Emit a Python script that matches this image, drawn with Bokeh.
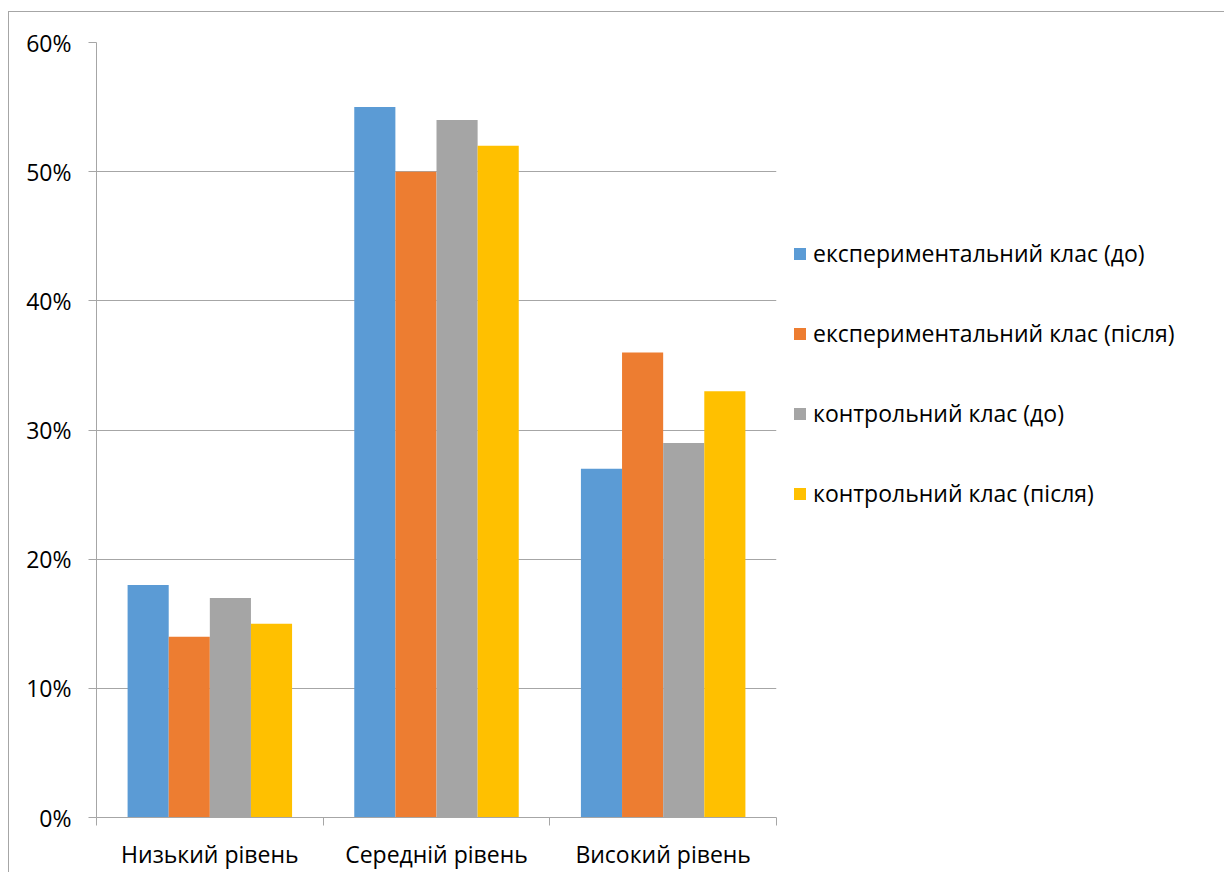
import numpy as np
from bokeh.plotting import figure
from bokeh.models import (ColumnDataSource, Range1d, FixedTicker, NumeralTickFormatter,
                          Legend, LegendItem)
from bokeh.transform import dodge
from bokeh.embed import file_html
from bokeh.resources import INLINE

categories = ["Низький рівень", "Середній рівень", "Високий рівень"]
series_names = ["експериментальний клас (до)", "експериментальний клас (після)",
                "контрольний клас (до)", "контрольний клас (після)"]
exp_before = [0.18, 0.55, 0.27]
exp_after = [0.14, 0.50, 0.36]
ctrl_before = [0.17, 0.54, 0.29]
ctrl_after = [0.15, 0.52, 0.33]
colors = ["#5b9bd5", "#ed7d31", "#a5a5a5", "#ffc000"]
y_ticks = [0.0, 0.1, 0.2, 0.3, 0.4, 0.5, 0.6]

FONT = "Open Sans"
GRID = "#a6a6a6"

centers = list(np.arange(len(categories)) + 0.5)
source = ColumnDataSource(dict(x=centers, s0=exp_before, s1=exp_after,
                               s2=ctrl_before, s3=ctrl_after))

p = figure(output_backend="svg", toolbar_location=None,
           frame_width=680, frame_height=775,
           min_border_left=87, min_border_top=30, min_border_right=420,
           min_border_bottom=50,
           x_range=Range1d(0, len(categories)), y_range=Range1d(0, 0.6))
p.styles = {"margin-top": "11px", "margin-left": "8px",
            "border-top": f"1px solid {GRID}", "border-left": f"1px solid {GRID}"}
p.outline_line_color = None
p.background_fill_color = "white"
p.border_fill_color = "white"

bw = 41 / 226
renderers = []
for i, key in enumerate(["s0", "s1", "s2", "s3"]):
    off = (i - 1.5) * bw
    r = p.vbar(x=dodge("x", off), top=key, width=bw, source=source,
               fill_color=colors[i], line_color=None)
    renderers.append(r)

# axes
p.xaxis.ticker = FixedTicker(ticks=centers, minor_ticks=list(range(len(categories) + 1)))
p.xaxis.major_label_overrides = {c: lab for c, lab in zip(centers, categories)}
p.xaxis.major_tick_out = 0
p.xaxis.major_tick_in = 0
p.xaxis.minor_tick_out = 8
p.xaxis.minor_tick_in = 0
p.xaxis.minor_tick_line_color = GRID
p.xaxis.axis_line_color = GRID
p.xaxis.major_label_standoff = 12

p.yaxis.ticker = FixedTicker(ticks=y_ticks)
p.yaxis.formatter = NumeralTickFormatter(format="0%")
p.yaxis.major_tick_out = 8
p.yaxis.major_tick_in = 0
p.yaxis.major_tick_line_color = GRID
p.yaxis.minor_tick_line_color = None
p.yaxis.axis_line_color = GRID
p.yaxis.major_label_standoff = 17

for ax in (p.xaxis, p.yaxis):
    ax.major_label_text_font = FONT
    ax.major_label_text_font_size = "23px"
    ax.major_label_text_color = "black"

p.xgrid.grid_line_color = None
p.ygrid.grid_line_color = GRID
p.ygrid.ticker = FixedTicker(ticks=y_ticks)

legend = Legend(items=[LegendItem(label=n, renderers=[r]) for n, r in zip(series_names, renderers)],
                location=(16, 308), orientation="vertical",
                glyph_width=15, glyph_height=15, label_height=20, spacing=48,
                label_standoff=6, padding=0, margin=0, border_line_color=None,
                background_fill_alpha=0,
                label_text_font=FONT, label_text_font_size="23px", label_text_color="black")
p.add_layout(legend, "right")

open("out.html", "w").write(file_html(p, INLINE))
